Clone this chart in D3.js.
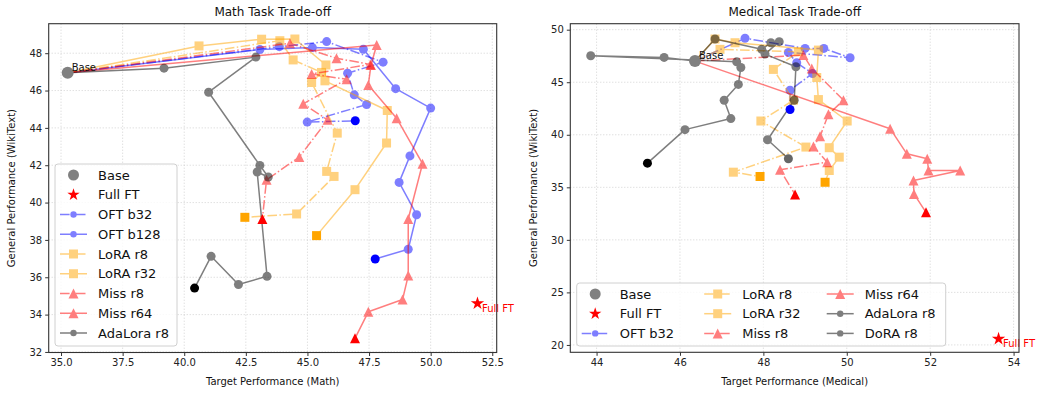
<!DOCTYPE html>
<html><head><meta charset="utf-8">
<script src="https://cdn.jsdelivr.net/npm/d3@7"></script>
<style>body{margin:0;background:#fff}svg{display:block}text{font-family:"DejaVu Sans",sans-serif}</style>
</head><body><svg id="c" width="1043" height="394"></svg>
<script>
// ---------- data ----------
const mathBase = [35.27, 46.95];
const mathFullFT = [51.9, 34.6];
const mathOftB32 = [[35.27,46.95],[43.86,48.35],[45.78,48.62],[48.07,47.52],[46.63,46.93],[46.9,45.77],[47.4,45.25],[44.99,44.31],[46.94,44.38]];
const mathOftB128 = [[35.27,46.95],[43.07,48.2],[45.2,48.3],[47.27,48.21],[48.58,46.1],[50.0,45.06],[49.16,42.5],[48.72,41.08],[49.43,39.35],[49.09,37.5],[47.75,36.98]];
const mathLoraR8 = [[35.27,46.95],[43.88,48.67],[44.42,47.64],[45.57,46.97],[45.17,46.43],[46.21,43.72],[45.78,41.67],[46.08,41.4],[44.56,39.39],[42.46,39.21]];
const mathLoraR32 = [[35.27,46.95],[40.6,48.39],[43.14,48.75],[44.49,48.76],[45.75,47.37],[45.71,46.52],[48.24,44.93],[48.21,43.19],[46.93,40.69],[45.37,38.23]];
const mathMissR8 = [[35.27,46.95],[44.29,48.53],[46.18,47.73],[47.55,47.4],[45.17,46.89],[46.59,46.6],[44.83,45.29],[45.82,44.43],[44.67,42.44],[43.34,41.22],[43.17,39.12]];
const mathMissR64 = [[35.27,46.95],[47.81,48.44],[47.58,47.37],[47.47,46.3],[48.62,44.52],[49.67,42.08],[49.09,39.12],[49.09,36.09],[48.86,34.81],[47.47,34.15],[46.93,32.73]];
const mathAdaLoraR8 = [[35.27,46.95],[39.18,47.2],[42.91,47.79],[40.99,45.91],[43.07,41.99],[43.41,41.37],[42.96,41.64],[43.36,36.05],[42.2,35.61],[41.09,37.12],[40.42,35.42]];

const medBase = [46.36, 47.01];
const medFullFT = [53.64, 20.58];
const medOftB32 = [[46.36,47.01],[47.56,49.18],[49.0,48.22],[49.45,48.22],[50.08,47.33],[48.6,47.84],[48.8,46.85],[49.18,45.83],[48.64,44.24],[48.64,42.4]];
const medLoraR8 = [[46.36,47.01],[46.96,48.13],[48.84,47.9],[48.24,46.22],[48.72,43.29],[47.94,41.31],[49.02,38.83],[47.28,36.44],[47.92,36.03]];
const medLoraR32 = [[46.36,47.01],[46.84,49.11],[47.32,48.76],[49.32,48.06],[49.28,45.45],[49.32,43.35],[50.01,41.31],[49.58,38.77],[49.82,37.87],[49.58,36.6],[49.48,35.48]];
const medMissR8 = [[46.36,47.01],[48.96,47.58],[49.16,46.31],[49.92,43.29],[49.56,41.95],[49.36,39.85],[49.2,38.89],[49.53,37.39],[48.4,36.67],[48.76,34.31]];
const medMissR64 = [[46.36,47.01],[51.04,40.58],[51.44,38.19],[51.93,37.72],[51.96,36.6],[52.72,36.6],[51.6,35.64],[51.61,34.37],[51.9,32.62]];
const medAdaLoraR8 = [[46.36,47.01],[45.62,47.36],[43.86,47.52],[47.36,46.94],[47.46,46.4],[47.4,44.79],[47.06,43.29],[47.22,41.54],[46.12,40.49],[45.22,37.3]];
const medDoraR8 = [[46.36,47.01],[46.84,49.11],[47.96,48.13],[48.18,48.76],[48.38,48.86],[48.04,47.68],[48.78,46.47],[48.74,43.29],[48.1,39.53],[48.6,37.72]];

const mathXTicks = [35.0,37.5,40.0,42.5,45.0,47.5,50.0,52.5];
const mathYTicks = [32,34,36,38,40,42,44,46,48];
const medXTicks = [44,46,48,50,52,54];
const medYTicks = [20,25,30,35,40,45,50];

// ---------- styles ----------
const STY = {
  "OFT b32":    {color:"blue",   dash:true,  marker:"circle",   fin:"blue"},
  "OFT b128":   {color:"blue",   dash:false, marker:"circle",   fin:"blue"},
  "LoRA r8":    {color:"orange", dash:true,  marker:"square",   fin:"orange"},
  "LoRA r32":   {color:"orange", dash:false, marker:"square",   fin:"orange"},
  "Miss r8":    {color:"red",    dash:true,  marker:"triangle", fin:"red"},
  "Miss r64":   {color:"red",    dash:false, marker:"triangle", fin:"red"},
  "AdaLora r8": {color:"black",  dash:false, marker:"circle",   fin:"black"},
  "DoRA r8":    {color:"black",  dash:false, marker:"circle",   fin:"#666"}
};
const DASH = "9.6,2.4,1.5,2.4";

function markerPath(type){
  if(type==="circle"){ const r=4.5; return `M${-r},0a${r},${r} 0 1,0 ${2*r},0a${r},${r} 0 1,0 ${-2*r},0Z`; }
  if(type==="square"){ const h=4.5; return `M${-h},${-h}H${h}V${h}H${-h}Z`; }
  if(type==="triangle"){ const h=5; return `M0,${-h}L${h},${h}L${-h},${h}Z`; }
}
function starPath(R){
  const r=R*0.381966; let p="";
  for(let i=0;i<10;i++){ const a=-Math.PI/2+i*Math.PI/5; const rr=i%2?r:R;
    p+=(i?"L":"M")+(rr*Math.cos(a)).toFixed(2)+","+(rr*Math.sin(a)).toFixed(2);}
  return p+"Z";
}

const svg = d3.select("#c");

function panel(cfg){
  const x = d3.scaleLinear().domain(cfg.xd).range([cfg.l, cfg.r]);
  const y = d3.scaleLinear().domain(cfg.yd).range([cfg.b, cfg.t]);
  const g = svg.append("g");
  // grid
  g.selectAll(".gx").data(cfg.xt).join("line").attr("x1",d=>x(d)).attr("x2",d=>x(d))
    .attr("y1",cfg.t).attr("y2",cfg.b).attr("stroke","#c8c8c8").attr("stroke-width",0.8).attr("stroke-dasharray","1,2");
  g.selectAll(".gy").data(cfg.yt).join("line").attr("y1",d=>y(d)).attr("y2",d=>y(d))
    .attr("x1",cfg.l).attr("x2",cfg.r).attr("stroke","#c8c8c8").attr("stroke-width",0.8).attr("stroke-dasharray","1,2");
  // axes
  const ax = g.append("g").attr("transform",`translate(0,${cfg.b})`)
    .call(d3.axisBottom(x).tickValues(cfg.xt).tickFormat(cfg.xf).tickSize(3.5).tickPadding(3));
  const ay = g.append("g").attr("transform",`translate(${cfg.l},0)`)
    .call(d3.axisLeft(y).tickValues(cfg.yt).tickFormat(d3.format("d")).tickSize(3.5).tickPadding(3));
  [ax,ay].forEach(a=>{a.select(".domain").remove(); a.selectAll("line").attr("stroke","#333");
    a.selectAll("text").attr("font-size",10).attr("fill","#222").attr("font-family","DejaVu Sans");});
  // series
  const line = d3.line().x(d=>x(d[0])).y(d=>y(d[1]));
  const sg = g.append("g").attr("clip-path",null);
  cfg.series.forEach(([name,data])=>{
    const s = STY[name];
    const gg = sg.append("g").attr("opacity",0.5);
    gg.append("path").attr("d",line(data)).attr("fill","none").attr("stroke",s.color)
      .attr("stroke-width",1.5).attr("stroke-dasharray",s.dash?DASH:null).attr("stroke-linejoin","round");
    gg.selectAll("path.m").data(data.slice(1,-1)).join("path").attr("class","m")
      .attr("d",markerPath(s.marker)).attr("transform",d=>`translate(${x(d[0])},${y(d[1])})`)
      .attr("fill",s.color);
  });
  cfg.series.forEach(([name,data])=>{
    const s = STY[name]; const d = data[data.length-1];
    sg.append("path").attr("d",markerPath(s.marker)).attr("transform",`translate(${x(d[0])},${y(d[1])})`)
      .attr("fill",s.fin);
  });
  // base & full FT
  g.append("circle").attr("cx",x(cfg.base[0])).attr("cy",y(cfg.base[1])).attr("r",6).attr("fill","gray");
  g.append("text").attr("x",x(cfg.base[0])+4).attr("y",y(cfg.base[1])-2).attr("font-size",10).attr("fill","#111").text("Base");
  g.append("path").attr("d",starPath(7)).attr("transform",`translate(${x(cfg.ft[0])},${y(cfg.ft[1])})`).attr("fill","red");
  g.append("text").attr("x",x(cfg.ft[0])+4.5).attr("y",y(cfg.ft[1])+8.5).attr("font-size",10).attr("fill","red").text("Full FT");
  // frame
  g.append("rect").attr("x",cfg.l).attr("y",cfg.t).attr("width",cfg.r-cfg.l).attr("height",cfg.b-cfg.t)
    .attr("fill","none").attr("stroke","#333").attr("stroke-width",1.1);
  // labels
  g.append("text").attr("x",(cfg.l+cfg.r)/2).attr("y",16).attr("text-anchor","middle").attr("font-size",12).attr("fill","#111").text(cfg.title);
  g.append("text").attr("x",(cfg.l+cfg.r)/2).attr("y",385).attr("text-anchor","middle").attr("font-size",10).attr("fill","#111").text(cfg.xl);
  g.append("text").attr("transform",`translate(${cfg.ylx},${(cfg.t+cfg.b)/2}) rotate(-90)`).attr("text-anchor","middle")
    .attr("font-size",10).attr("fill","#111").text("General Performance (WikiText)");
  // legend
  const L = cfg.leg;
  const lg = g.append("g");
  lg.append("rect").attr("x",L.x).attr("y",L.y).attr("width",L.w).attr("height",L.h).attr("rx",3)
    .attr("fill","white").attr("fill-opacity",0.8).attr("stroke","#d0d0d0").attr("stroke-width",1);
  L.items.forEach((it,i)=>{
    const col = Math.floor(i/L.rows), row = i%L.rows;
    const hx = L.x + 5 + col*L.colW, cy = L.y + L.r0 + row*L.dy;
    const ig = lg.append("g");
    if(it==="Base"){ ig.append("circle").attr("cx",hx+13.5).attr("cy",cy).attr("r",5.5).attr("fill","gray"); }
    else if(it==="Full FT"){ ig.append("path").attr("d",starPath(6.5)).attr("transform",`translate(${hx+13.5},${cy})`).attr("fill","red"); }
    else {
      const s = STY[it];
      const hg = ig.append("g").attr("opacity",0.5);
      hg.append("line").attr("x1",hx).attr("x2",hx+27).attr("y1",cy).attr("y2",cy).attr("stroke",s.color)
        .attr("stroke-width",1.5).attr("stroke-dasharray",s.dash?DASH:null);
      const mk = s.marker==="circle" ? `M-3.2,0a3.2,3.2 0 1,0 6.4,0a3.2,3.2 0 1,0 -6.4,0Z` : markerPath(s.marker);
      hg.append("path").attr("d",mk).attr("transform",`translate(${hx+13.5},${cy})`).attr("fill",s.color);
    }
    ig.append("text").attr("x",hx+38).attr("y",cy+4.7).attr("font-size",13).attr("fill","#111").text(it);
  });
}

panel({
  l:48.7, r:496.7, t:23.7, b:352.5, xd:[34.5,52.68], yd:[31.97,49.58],
  xt:mathXTicks, yt:mathYTicks, xf:d3.format(".1f"), ylx:15,
  title:"Math Task Trade-off", xl:"Target Performance (Math)",
  base:mathBase, ft:mathFullFT,
  series:[["OFT b32",mathOftB32],["OFT b128",mathOftB128],["LoRA r8",mathLoraR8],["LoRA r32",mathLoraR32],
          ["Miss r8",mathMissR8],["Miss r64",mathMissR64],["AdaLora r8",mathAdaLoraR8]],
  leg:{x:55,y:164,w:122,h:182,rows:9,colW:0,r0:11,dy:19.75,
       items:["Base","Full FT","OFT b32","OFT b128","LoRA r8","LoRA r32","Miss r8","Miss r64","AdaLora r8"]}
});
panel({
  l:570.3, r:1019, t:23.7, b:352.3, xd:[43.37,54.13], yd:[19.3,50.57],
  xt:medXTicks, yt:medYTicks, xf:d3.format("d"), ylx:537,
  title:"Medical Task Trade-off", xl:"Target Performance (Medical)",
  base:medBase, ft:medFullFT,
  series:[["OFT b32",medOftB32],["LoRA r8",medLoraR8],["LoRA r32",medLoraR32],["Miss r8",medMissR8],
          ["Miss r64",medMissR64],["AdaLora r8",medAdaLoraR8],["DoRA r8",medDoraR8]],
  leg:{x:576.7,y:283,w:369,h:63,rows:3,colW:122.5,r0:11,dy:19.7,
       items:["Base","Full FT","OFT b32","LoRA r8","LoRA r32","Miss r8","Miss r64","AdaLora r8","DoRA r8"]}
});
</script></body></html>
